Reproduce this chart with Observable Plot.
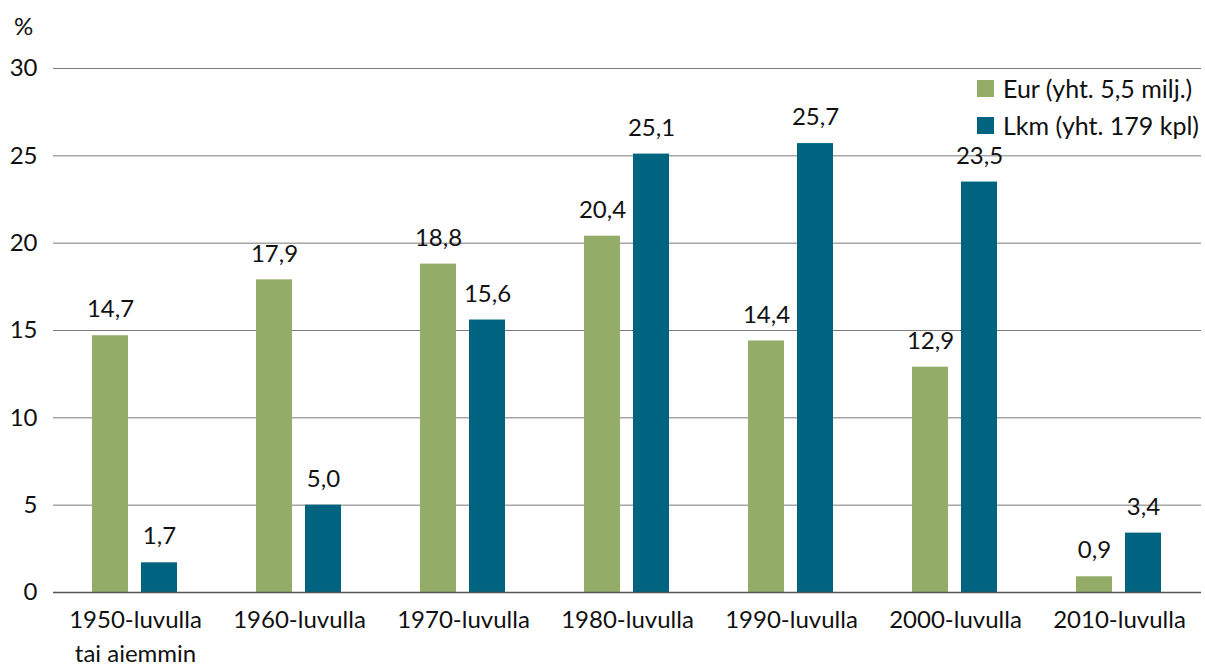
<!DOCTYPE html>
<html>
<head>
<meta charset="utf-8">
<script src="https://cdn.jsdelivr.net/npm/d3@7"></script>
<script src="https://cdn.jsdelivr.net/npm/@observablehq/plot@0.6"></script>
<style>
  body { margin: 0; background: #fff; font-family: Lato, sans-serif; }
  #wrap { position: relative; width: 1205px; height: 668px; }
  .lbl { position: absolute; font-size: 25px; color: #111; white-space: nowrap; line-height: 1; }
  .sw { position: absolute; width: 17px; height: 17px; }
</style>
</head>
<body>
<div id="wrap"></div>
<script>
const categories = ["1950-luvulla\ntai aiemmin", "1960-luvulla", "1970-luvulla", "1980-luvulla", "1990-luvulla", "2000-luvulla", "2010-luvulla"];
const series = ["Eur (yht. 5,5 milj.)", "Lkm (yht. 179 kpl)"];
const eurValues = [14.7, 17.9, 18.8, 20.4, 14.4, 12.9, 0.9];
const lkmValues = [1.7, 5.0, 15.6, 25.1, 25.7, 23.5, 3.4];
const yTicks = [0, 5, 10, 15, 20, 25, 30];
const colors = ["#93ad69", "#00637f"];

const data = [];
categories.forEach((c, i) => {
  data.push({cat: c, s: series[0], v: eurValues[i]});
  data.push({cat: c, s: series[1], v: lkmValues[i]});
});
const fmt = v => v.toFixed(1).replace(".", ",");

const chart = Plot.plot({
  width: 1205,
  height: 668,
  marginTop: 68,
  marginBottom: 76,
  marginLeft: 52,
  marginRight: 4,
  style: {fontFamily: "Lato, sans-serif", fontSize: "24px", color: "#111", background: "#fff"},
  fx: {domain: categories, padding: 0, paddingOuter: 0, label: null},
  x: {domain: series, paddingInner: 0.26, paddingOuter: 0.77, axis: null},
  y: {domain: [0, 30], ticks: yTicks, label: null},
  color: {domain: series, range: colors},
  marks: [
    Plot.gridY(yTicks.filter(d => d > 0), {stroke: "#7a7a7a", strokeOpacity: 1, strokeWidth: 1}),
    Plot.axisY(yTicks, {tickSize: 0, tickPadding: 16, fontSize: 24, label: null}),
    Plot.axisFx({anchor: "bottom", tickSize: 0, tickPadding: 12, fontSize: 24, lineHeight: 1.4, label: null}),
    Plot.barY(data, {fx: "cat", x: "s", y: "v", fill: "s"}),
    Plot.ruleY([0], {stroke: "#555", strokeWidth: 1.5}),
    Plot.text(data, {fx: "cat", x: "s", y: "v", text: d => fmt(d.v), dy: -26, fontSize: 24, fill: "#111"})
  ]
});
const wrap = document.getElementById("wrap");
wrap.appendChild(chart);

const pct = document.createElement("div");
pct.className = "lbl"; pct.textContent = "%";
pct.style.left = "14px"; pct.style.top = "14px";
pct.style.fontSize = "24px";
wrap.appendChild(pct);

series.forEach((s, i) => {
  const sw = document.createElement("div");
  sw.className = "sw"; sw.style.background = colors[i];
  sw.style.left = "977px"; sw.style.top = (80 + i * 37) + "px";
  wrap.appendChild(sw);
  const t = document.createElement("div");
  t.className = "lbl"; t.textContent = s;
  t.style.left = "1003px"; t.style.top = (76 + i * 37) + "px";
  wrap.appendChild(t);
});
</script>
</body>
</html>
